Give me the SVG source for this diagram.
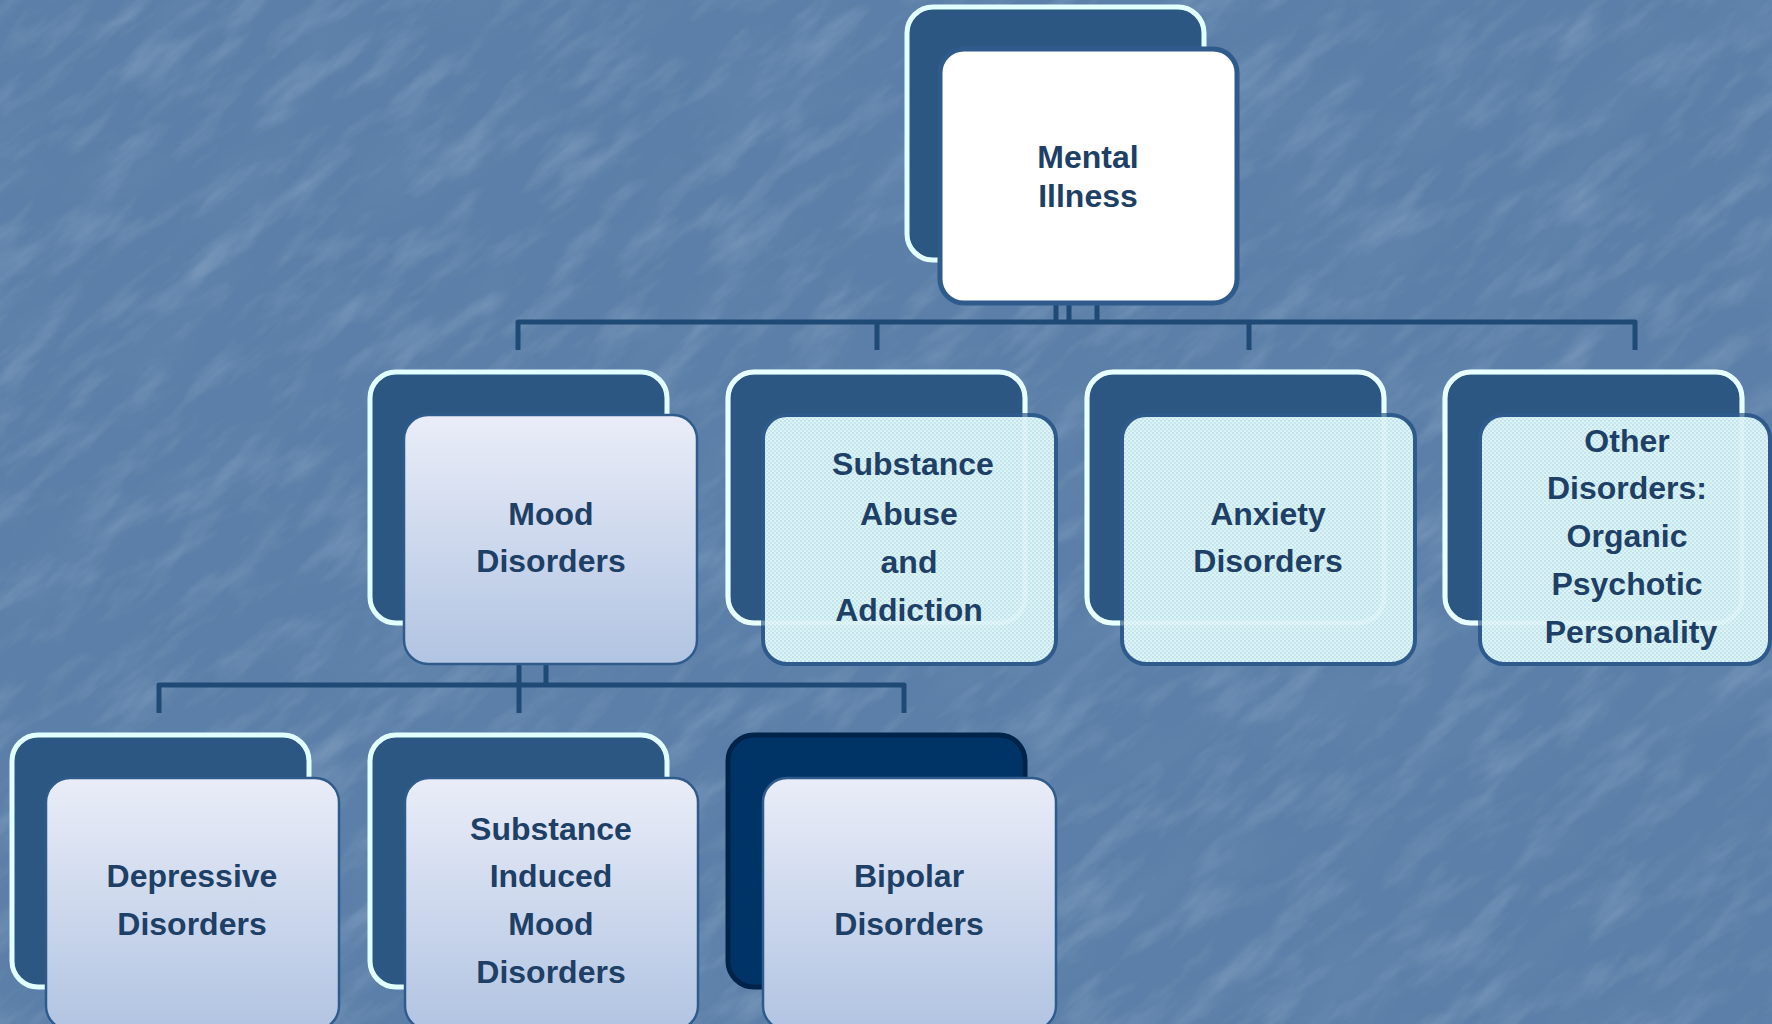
<svg xmlns="http://www.w3.org/2000/svg" width="1772" height="1024" viewBox="0 0 1772 1024">
<defs>
<filter id="tex" x="0" y="0" width="100%" height="100%" filterUnits="objectBoundingBox">
<feTurbulence type="fractalNoise" baseFrequency="0.012 0.04" numOctaves="4" seed="7"/>
<feColorMatrix type="matrix" values="0 0 0 0 0.85  0 0 0 0 0.92  0 0 0 0 1  1.5 0 0 0 -0.7"/>
</filter>
<filter id="tex2" x="0" y="0" width="100%" height="100%" filterUnits="objectBoundingBox">
<feTurbulence type="fractalNoise" baseFrequency="0.006 0.014" numOctaves="3" seed="11"/>
<feColorMatrix type="matrix" values="0 0 0 0 0.2  0 0 0 0 0.32  0 0 0 0 0.5  -1.4 0 0 0 0.75"/>
</filter>
<linearGradient id="g" x1="0" y1="0" x2="0" y2="1">
<stop offset="0" stop-color="#eaedf8"/>
<stop offset="1" stop-color="#b1c4e2"/>
</linearGradient>
<pattern id="dots" width="4" height="4" patternUnits="userSpaceOnUse">
<rect width="4" height="4" fill="#dbf4f7"/>
<rect x="0" y="0" width="2" height="2" fill="#c3e2ea"/>
<rect x="2" y="2" width="2" height="2" fill="#c9e6ed"/>
</pattern>
<style>
.back{fill:#2c5782;stroke:#e2ffff;stroke-width:5}
.backdark{fill:#003466;stroke:#002449;stroke-width:5}
.front{fill:url(#g);stroke:#2e5b8b;stroke-width:2.5}
.frontw{fill:#ffffff;stroke:#2e5b8b;stroke-width:5}
.frontp{fill:url(#dots);stroke:#2e5b8b;stroke-width:4}
.ghost{fill:none;stroke:#f2ffff;stroke-opacity:0.3;stroke-width:5}
.lbl{font-family:"Liberation Sans",Arial,sans-serif;font-weight:bold;font-size:32px;fill:#1e3f66;text-anchor:middle}
.conn{fill:none;stroke:#1f4a76;stroke-width:5;stroke-linejoin:round}
</style>
</defs>
<rect x="0" y="0" width="1772" height="1024" fill="#5b7fa8"/>
<g transform="rotate(-40 886 512)">
<rect x="-900" y="-900" width="3572" height="2824" filter="url(#tex2)" opacity="0.3"/>
<rect x="-900" y="-900" width="3572" height="2824" filter="url(#tex)" opacity="0.25"/>
</g>
<g id="connectors">
<path class="conn" d="M1056 303V322M1069 303V322M1097 303V322M518 350V322H1635V350M877 322V350M1249 322V350"/>
<path class="conn" d="M519 664V713M546 664V685M159 713V685H904V713"/>
</g>
<g id="n-mental-illness">
<rect class="back" x="907" y="7" width="297" height="253" rx="26"/>
<rect class="frontw" x="940" y="49" width="297" height="254" rx="24"/>
<text class="lbl" x="1088" y="168" font-size="31">Mental</text>
<text class="lbl" x="1088" y="207" font-size="31">Illness</text>
</g>
<g id="n-mood">
<rect class="back" x="370" y="372" width="297" height="251" rx="26"/>
<rect class="front" x="404" y="415" width="293" height="249" rx="24"/>
<text class="lbl" x="551" y="525">Mood</text>
<text class="lbl" x="551" y="572">Disorders</text>
</g>
<g id="n-substance-abuse">
<rect class="back" x="728" y="372" width="297" height="251" rx="26"/>
<rect class="frontp" x="763" y="415" width="293" height="249" rx="24"/>
<rect class="ghost" x="728" y="372" width="297" height="251" rx="26"/>
<text class="lbl" x="913" y="475">Substance</text>
<text class="lbl" x="909" y="525">Abuse</text>
<text class="lbl" x="909" y="573">and</text>
<text class="lbl" x="909" y="621">Addiction</text>
</g>
<g id="n-anxiety">
<rect class="back" x="1087" y="372" width="297" height="251" rx="26"/>
<rect class="frontp" x="1122" y="415" width="293" height="249" rx="24"/>
<rect class="ghost" x="1087" y="372" width="297" height="251" rx="26"/>
<text class="lbl" x="1268" y="525">Anxiety</text>
<text class="lbl" x="1268" y="572">Disorders</text>
</g>
<g id="n-other">
<rect class="back" x="1445" y="372" width="297" height="251" rx="26"/>
<rect class="frontp" x="1480" y="415" width="290" height="249" rx="24"/>
<rect class="ghost" x="1445" y="372" width="297" height="251" rx="26"/>
<text class="lbl" x="1627" y="452">Other</text>
<text class="lbl" x="1627" y="499">Disorders:</text>
<text class="lbl" x="1627" y="547">Organic</text>
<text class="lbl" x="1627" y="595">Psychotic</text>
<text class="lbl" x="1631" y="643">Personality</text>
</g>
<g id="n-depressive">
<rect class="back" x="12" y="735" width="297" height="252" rx="26"/>
<rect class="front" x="46" y="778" width="293" height="252" rx="24"/>
<text class="lbl" x="192" y="887">Depressive</text>
<text class="lbl" x="192" y="935">Disorders</text>
</g>
<g id="n-substance-induced">
<rect class="back" x="370" y="735" width="297" height="252" rx="26"/>
<rect class="front" x="405" y="778" width="293" height="252" rx="24"/>
<text class="lbl" x="551" y="840">Substance</text>
<text class="lbl" x="551" y="887">Induced</text>
<text class="lbl" x="551" y="935">Mood</text>
<text class="lbl" x="551" y="983">Disorders</text>
</g>
<g id="n-bipolar">
<rect class="backdark" x="728" y="735" width="297" height="252" rx="26"/>
<rect class="front" x="763" y="778" width="293" height="252" rx="24"/>
<text class="lbl" x="909" y="887">Bipolar</text>
<text class="lbl" x="909" y="935">Disorders</text>
</g>
</svg>
